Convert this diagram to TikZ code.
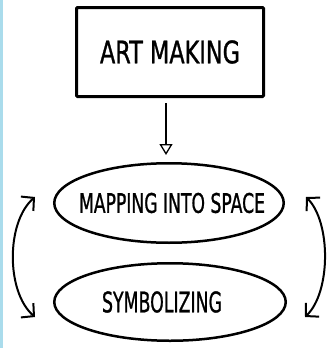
\documentclass[tikz,border=0pt]{standalone}
\usepackage{graphicx}
\usepackage{fontspec}
\setmainfont{DejaVu Sans}[FakeBold=1.2]
\usetikzlibrary{shapes.geometric,arrows.meta}
\definecolor{bandblue}{RGB}{170,220,236}
\tikzset{
  box/.style={draw=black, line width=3pt, rounded corners=1pt, inner sep=0pt,
    minimum width=187pt, minimum height=89pt},
  oval/.style={draw=black, ellipse, line width=2.5pt, inner sep=0pt},
  downarrow/.style={draw=black, line width=1.3pt,
    -{Triangle[open, length=11pt, width=13pt, line width=1.3pt]}},
  cyclearrow/.style={draw=black, line width=2pt,
    {Straight Barb[length=9pt, width=19pt, line width=2pt]}-{Straight Barb[length=9pt, width=19pt, line width=2pt]}}
}
\begin{document}
\begin{tikzpicture}[x=1pt, y=-1pt]
\useasboundingbox (0,0) rectangle (327,348);
\fill[bandblue] (0,0) rectangle (3,348);
\node[box] (art) at (170,52) {\resizebox{140pt}{23pt}{ART MAKING}};
\node[oval, minimum width=229.5pt, minimum height=79.5pt] (map) at (169,203)
  {\makebox[0pt]{\hspace*{6pt}\resizebox{186pt}{20pt}{MAPPING INTO SPACE}}};
\node[oval, minimum width=231.5pt, minimum height=77.5pt] (sym) at (170,302)
  {\makebox[0pt]{\hspace*{-16pt}\resizebox{120pt}{21pt}{SYMBOLIZING}}};
\draw[downarrow] ([xshift=-4pt,yshift=-5pt]art.south) -- ([xshift=-3pt,yshift=7pt]map.north);
\coordinate (lt) at (35,197);
\coordinate (lb) at (35,317);
\coordinate (rt) at (306,197);
\coordinate (rb) at (305,317);
\draw[cyclearrow] (lt) .. controls (6,222) and (6,292) .. (lb);
\draw[cyclearrow] (rt) .. controls (331,222) and (331,292) .. (rb);
\end{tikzpicture}
\end{document}
